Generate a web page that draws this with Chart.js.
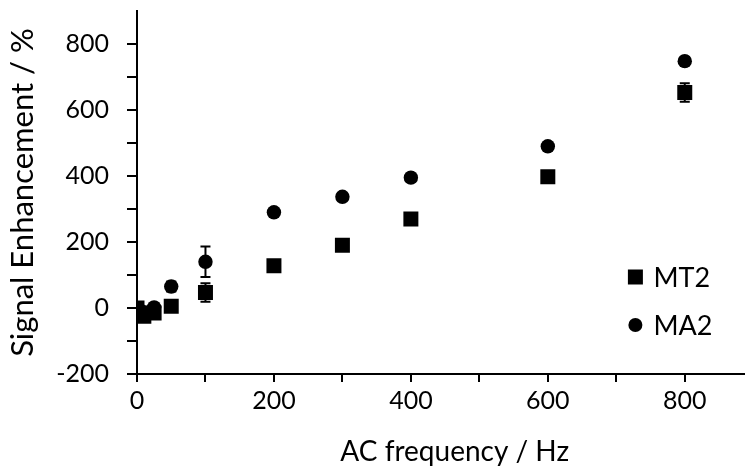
<!DOCTYPE html>
<html>
<head>
<meta charset="utf-8">
<script src="https://cdn.jsdelivr.net/npm/chart.js@4.4.0/dist/chart.umd.min.js"></script>
<style>
  html, body { margin: 0; padding: 0; background: #fff; overflow: hidden; }
  /* plot area runs past the right edge of the window, as in the reference crop */
  #wrap { width: 783px; height: 469px; }
</style>
</head>
<body>
<div id="wrap"><canvas id="chart"></canvas></div>
<script>
// AC frequency (Hz)
const freqs = [0, 5, 10, 25, 50, 100, 200, 300, 400, 600, 800];

// Signal enhancement (%)
const mt2Values = [0, -15, -25, -15, 5, 47, 128, 190, 270, 398, 653];
const mt2Errors = [0, 0, 0, 0, 5, 28, 0, 0, 0, 0, 28];
const ma2Values = [0, -8, -15, 2, 65, 140, 290, 337, 395, 490, 748];
const ma2Errors = [0, 0, 0, 0, 15, 46, 0, 0, 0, 0, 5];

const xTicks = [0, 100, 200, 300, 400, 500, 600, 700, 800, 900];
const yTicks = [-200, -100, 0, 100, 200, 300, 400, 500, 600, 700, 800];

const FONT = "Lato, 'Open Sans', sans-serif";

function toPoints(xs, ys) {
  return xs.map((x, i) => ({ x: x, y: ys[i] }));
}

// error bars, drawn under the markers
const errorBars = {
  id: 'errorBars',
  beforeDatasetsDraw(chart) {
    const ctx = chart.ctx;
    const xs = chart.scales.x, ys = chart.scales.y;
    ctx.save();
    ctx.strokeStyle = '#000';
    ctx.lineWidth = 2;
    chart.data.datasets.forEach(ds => {
      ds.data.forEach((p, i) => {
        const e = ds.errors[i];
        if (!e) return;
        const px = xs.getPixelForValue(p.x);
        const top = ys.getPixelForValue(p.y + e);
        const bot = ys.getPixelForValue(p.y - e);
        ctx.beginPath();
        ctx.moveTo(px, top); ctx.lineTo(px, bot);
        ctx.moveTo(px - 5, top); ctx.lineTo(px + 5, top);
        ctx.moveTo(px - 5, bot); ctx.lineTo(px + 5, bot);
        ctx.stroke();
      });
    });
    ctx.restore();
  }
};

// legend inside the plot, lower right
const insideLegend = {
  id: 'insideLegend',
  afterDraw(chart) {
    const ctx = chart.ctx;
    const area = chart.chartArea;
    const x = area.right - 137;
    const rows = [area.bottom - 97, area.bottom - 49];
    ctx.save();
    ctx.fillStyle = '#000';
    ctx.font = "27px " + FONT;
    ctx.textBaseline = 'middle';
    chart.data.datasets.forEach((ds, i) => {
      const y = rows[i];
      ctx.beginPath();
      if (ds.pointStyle === 'rect') {
        ctx.rect(x - 7.5, y - 7.5, 15, 15);
      } else {
        ctx.arc(x, y, 7, 0, Math.PI * 2);
      }
      ctx.fill();
      ctx.fillText(ds.label, x + 18, y + 1);
    });
    ctx.restore();
  }
};

new Chart(document.getElementById('chart'), {
  type: 'scatter',
  data: {
    datasets: [
      {
        label: 'MT2',
        data: toPoints(freqs, mt2Values),
        errors: mt2Errors,
        pointStyle: 'rect',
        pointRadius: 10.6,
        backgroundColor: '#000',
        borderColor: '#000',
        borderWidth: 0
      },
      {
        label: 'MA2',
        data: toPoints(freqs, ma2Values),
        errors: ma2Errors,
        pointStyle: 'circle',
        pointRadius: 7.2,
        backgroundColor: '#000',
        borderColor: '#000',
        borderWidth: 0
      }
    ]
  },
  options: {
    responsive: true,
    maintainAspectRatio: false,
    animation: false,
    layout: { padding: { top: 11, right: 0, left: 0, bottom: 0 } },
    plugins: {
      legend: { display: false },
      tooltip: { enabled: false }
    },
    scales: {
      x: {
        type: 'linear',
        min: 0,
        max: 928,
        afterBuildTicks: s => { s.ticks = xTicks.map(v => ({ value: v })); },
        afterFit: s => { s.height = 95; s.paddingLeft = 0; s.paddingRight = 0; },
        border: { color: '#000', width: 2 },
        grid: { drawOnChartArea: false, color: '#000', lineWidth: 2, tickLength: 8 },
        ticks: {
          color: '#000',
          font: { family: FONT, size: 25 },
          padding: 4,
          maxRotation: 0,
          autoSkip: false,
          callback: v => (v % 200 === 0 ? String(v) : '')
        },
        title: {
          display: true,
          text: 'AC frequency / Hz',
          color: '#000',
          font: { family: FONT, size: 28 },
          padding: { top: 0, bottom: 0 }
        }
      },
      y: {
        type: 'linear',
        min: -200,
        max: 900,
        afterBuildTicks: s => { s.ticks = yTicks.map(v => ({ value: v })); },
        afterFit: s => { s.width = 137; s.paddingTop = 0; s.paddingBottom = 0; },
        border: { color: '#000', width: 2 },
        grid: { drawOnChartArea: false, color: '#000', lineWidth: 2, tickLength: 10 },
        ticks: {
          color: '#000',
          font: { family: FONT, size: 25 },
          padding: 18,
          autoSkip: false,
          callback: v => (v % 200 === 0 ? String(v) : '')
        },
        title: {
          display: true,
          text: 'Signal Enhancement / %',
          color: '#000',
          font: { family: FONT, size: 31 },
          padding: { bottom: 2 }
        }
      }
    }
  },
  plugins: [errorBars, insideLegend]
});
</script>
</body>
</html>
